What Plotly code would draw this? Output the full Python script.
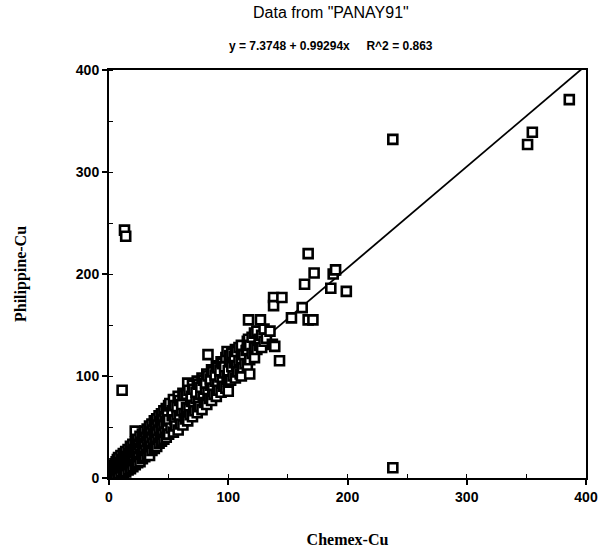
import plotly.graph_objects as go

# Regression coefficients (from the chart subtitle)
intercept = 7.3748
slope = 0.99294
r_squared = 0.863

# Main dense band: Chemex-Cu (x) and Philippine-Cu (y)
band_x = [
    1, 1, 2, 2, 3, 3, 4, 4, 4, 5, 5, 6, 6, 6, 7, 7, 8, 8, 8, 9, 9, 10, 10, 10,
    11, 11, 12, 12, 12, 13, 13, 14, 14, 14, 15, 15, 16, 16, 16, 17, 17, 18, 18, 18, 19, 19, 20, 20, 20,
    21, 21, 22, 22, 22, 22, 23, 23, 24, 24, 24, 25, 25, 26, 26, 26, 27, 27, 28, 28, 28, 29, 29, 30, 30, 30,
    31, 31, 32, 32, 32, 33, 33, 34, 34, 34, 35, 35, 36, 36, 36, 37, 37, 38, 38, 38, 39, 39, 40, 40, 40,
    41, 41, 42, 42, 42, 43, 43, 44, 44, 44, 45, 45, 46, 46, 46, 47, 47, 48, 48, 48, 49, 49, 50, 50, 50,
    52, 53, 51, 54, 55, 53, 54, 56, 57, 55, 58, 59, 57, 58, 60, 61, 59, 62, 63, 61, 62, 64, 65, 63,
    66, 67, 65, 66, 68, 69, 67, 70, 71, 69, 70, 72, 73, 71, 74, 75, 73, 74, 76, 77, 75, 78, 79, 77, 78,
    80, 81, 79, 82, 83, 81, 82, 83, 84, 85, 83, 86, 87, 85, 86, 88, 89, 87, 90, 91, 89, 90,
    92, 93, 91, 94, 95, 93, 94, 96, 97, 95, 98, 99, 97, 98, 100, 100, 100, 101, 99,
    102, 103, 101, 104, 105, 103, 106, 107, 105, 106, 108, 109, 107, 110, 111, 109, 111, 112, 113, 111, 114, 115,
    116, 116, 116, 117, 117, 118, 118, 118, 120, 120, 122, 122, 122, 124, 124, 126, 126, 127, 128, 128, 130, 130,
    132, 135, 137, 138, 138, 139, 143, 145,
]
band_y = [
    1, 4, 6, 2, 3, 9, 1, 7, 12, 5, 14, 3, 10, 16, 8, 18, 4, 12, 20, 9, 15, 6, 13, 22,
    10, 18, 4, 14, 24, 9, 19, 6, 16, 26, 12, 21, 8, 17, 28, 13, 24, 9, 20, 31, 15, 26, 11, 22, 33,
    17, 28, 13, 25, 35, 46, 19, 30, 15, 27, 38, 21, 33, 16, 29, 41, 23, 35, 19, 31, 43, 25, 38, 21, 34, 46,
    27, 40, 23, 36, 48, 29, 42, 22, 38, 51, 31, 45, 27, 40, 53, 34, 47, 29, 43, 56, 36, 50, 31, 45, 58,
    38, 52, 34, 47, 61, 40, 55, 36, 50, 63, 43, 57, 38, 52, 66, 45, 60, 40, 55, 68, 47, 62, 43, 57, 71,
    49, 61, 73, 45, 57, 66, 77, 51, 62, 71, 47, 60, 70, 80, 53, 66, 76, 52, 64, 72, 83, 58, 69, 81,
    56, 68, 82, 93, 62, 75, 86, 60, 71, 80, 91, 66, 78, 87, 64, 77, 84, 95, 70, 82, 92, 67, 80, 89, 98,
    74, 87, 96, 72, 84, 93, 102, 121, 78, 91, 100, 76, 88, 97, 106, 82, 95, 104, 80, 92, 101, 110,
    86, 99, 108, 84, 96, 105, 114, 90, 103, 112, 88, 100, 109, 118, 85, 95, 105, 116, 124,
    96, 109, 120, 100, 113, 122, 98, 110, 119, 126, 104, 115, 124, 102, 117, 128, 100, 108, 121, 130, 112, 125,
    110, 126, 134, 155, 136, 102, 116, 130, 122, 138, 118, 128, 142, 126, 144, 130, 136, 155, 128, 140, 134, 146,
    137, 144, 131, 177, 169, 129, 115, 177,
]

# Sparser points in the upper part of the trend
upper_x = [153, 162, 164, 167, 167, 171, 172, 186, 188, 190, 199]
upper_y = [157, 167, 190, 220, 155, 155, 201, 186, 200, 204, 183]

# Isolated outliers
outlier_x = [11, 13, 14, 238, 238, 351, 355, 386]
outlier_y = [86, 243, 237, 332, 10, 327, 339, 371]

x_ticks = [0, 100, 200, 300, 400]
y_ticks = [0, 100, 200, 300, 400]

title_text = 'Data from "PANAY91"'
subtitle_text = f"y = {intercept} + {slope}x     R^2 = {r_squared}"

chemex = band_x + upper_x + outlier_x
philippine = band_y + upper_y + outlier_y

line_x = [0, 400]
line_y = [intercept + slope * v for v in line_x]

fig = go.Figure()
fig.add_trace(go.Scatter(
    x=line_x, y=line_y, mode="lines",
    line=dict(color="black", width=1.8), hoverinfo="skip", showlegend=False,
))
fig.add_trace(go.Scatter(
    x=chemex, y=philippine, mode="markers",
    marker=dict(symbol="square", size=9, color="white",
                line=dict(color="black", width=2.6)),
    showlegend=False,
))

axis_common = dict(
    range=[0, 400], showgrid=False, zeroline=False, automargin=False,
    showline=True, linecolor="black", linewidth=2, mirror=True,
    ticks="outside", ticklen=5, tickwidth=1.5, tickcolor="black",
    tickfont=dict(family="Liberation Sans, Arial, sans-serif", size=14, color="black", weight="bold"),
    minor=dict(dtick=50, ticks="inside", ticklen=4, tickcolor="black", tickwidth=1.2),
)

fig.update_xaxes(**axis_common, tickvals=x_ticks,
                 title=dict(text="Chemex-Cu", standoff=30,
                            font=dict(family="Liberation Serif, Times New Roman, serif", size=16, color="black", weight="bold")))
fig.update_yaxes(**axis_common, tickvals=y_ticks,
                 title=dict(text="Philippine-Cu", standoff=45,
                            font=dict(family="Liberation Serif, Times New Roman, serif", size=16, color="black", weight="bold")))

fig.update_layout(
    width=599, height=553,
    margin=dict(l=109, r=13, t=70, b=75),
    paper_bgcolor="white", plot_bgcolor="white",
    showlegend=False,
    annotations=[
        dict(text=title_text, xref="paper", yref="paper", x=0.465, y=1.0,
             xanchor="center", yanchor="bottom", yshift=47, showarrow=False,
             font=dict(family="Liberation Sans, Arial, sans-serif", size=16, color="black")),
        dict(text=subtitle_text, xref="paper", yref="paper", x=0.465, y=1.0,
             xanchor="center", yanchor="bottom", yshift=15, showarrow=False,
             font=dict(family="Liberation Sans, Arial, sans-serif", size=12, color="black", weight="bold")),
    ],
)

fig.write_html("out.html", config={"displayModeBar": False},
               post_script="document.body.style.margin='0';")
